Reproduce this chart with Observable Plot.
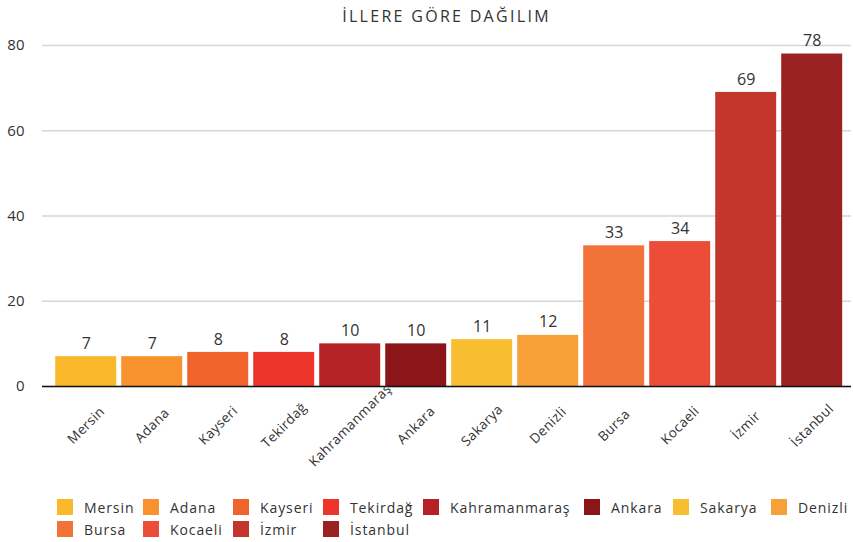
<!DOCTYPE html>
<html>
<head>
<meta charset="utf-8">
<script src="https://cdn.jsdelivr.net/npm/d3@7"></script>
<script src="https://cdn.jsdelivr.net/npm/@observablehq/plot@0.6"></script>
<style>
  html, body { margin: 0; padding: 0; background: #fff; }
  body { width: 853px; height: 542px; position: relative; font-family: "Open Sans", Lato, sans-serif; color: #333; }
  #title { height: 20px; padding-top: 6px; line-height: 20px; font-size: 16px; letter-spacing: 2.3px; text-align: center; padding-left: 42px; padding-right: 2px; color: #333; }
  #legend { position: absolute; left: 57px; top: 499px; display: grid; grid-template-columns: 86px 90px 90px 100px 161px 89px 98px auto; row-gap: 6px; }
  .item { display: flex; align-items: center; height: 16px; font-size: 14px; letter-spacing: 0.9px; color: #333; }
  .sw { width: 16px; height: 16px; margin-right: 11px; flex: none; }
  svg g.xl text { letter-spacing: 0.4px; }
</style>
</head>
<body>
<div id="title">İLLERE GÖRE DAĞILIM</div>
<div id="chart"></div>
<div id="legend"></div>
<script>
const cities = ["Mersin", "Adana", "Kayseri", "Tekirdağ", "Kahramanmaraş", "Ankara", "Sakarya", "Denizli", "Bursa", "Kocaeli", "İzmir", "İstanbul"];
const values = [7, 7, 8, 8, 10, 10, 11, 12, 33, 34, 69, 78];
const colors = ["#F9B92B", "#F7922E", "#F0632A", "#EE352B", "#B42226", "#8A161A", "#F9BD31", "#F7A037", "#F2723A", "#EC4D38", "#C3362B", "#9A2220"];
const yTicks = [0, 20, 40, 60, 80];

const data = cities.map((c, i) => ({city: c, value: values[i]}));

const chart = Plot.plot({
  width: 853,
  height: 466,
  marginTop: 19,
  marginBottom: 106,
  marginLeft: 42,
  marginRight: 2,
  style: {fontFamily: "'Open Sans', Lato, sans-serif", fontSize: "15px", color: "#333", background: "transparent"},
  x: {domain: cities, paddingInner: 0.076, paddingOuter: 0.167, align: 0.6, round: false, axis: null},
  y: {domain: [0, 80], axis: null},
  color: {domain: cities, range: colors},
  marks: [
    Plot.ruleY(yTicks, {stroke: "#d6d6d6", strokeWidth: 1.6}),
    Plot.barY(data, {x: "city", y: "value", fill: "city"}),
    Plot.ruleY([0], {stroke: "#111", strokeWidth: 1.5}),
    Plot.text(data, {x: "city", y: "value", text: d => String(d.value), dy: -13, fontSize: 16, fill: "#333"}),
    Plot.text(data, {x: "city", frameAnchor: "bottom", text: "city", rotate: -45, textAnchor: "middle", lineAnchor: "middle", dy: 39, fontSize: 13.5, fill: "#333", className: "xl"}),
    Plot.axisY({ticks: yTicks, tickSize: 0, tickPadding: 18, fontSize: 15, fill: "#333", label: null})
  ]
});
document.getElementById("chart").appendChild(chart);

const legend = document.getElementById("legend");
cities.forEach((c, i) => {
  const it = document.createElement("div");
  it.className = "item";
  const sw = document.createElement("span");
  sw.className = "sw";
  sw.style.background = colors[i];
  const t = document.createElement("span");
  t.textContent = c;
  it.appendChild(sw);
  it.appendChild(t);
  legend.appendChild(it);
});
</script>
</body>
</html>
